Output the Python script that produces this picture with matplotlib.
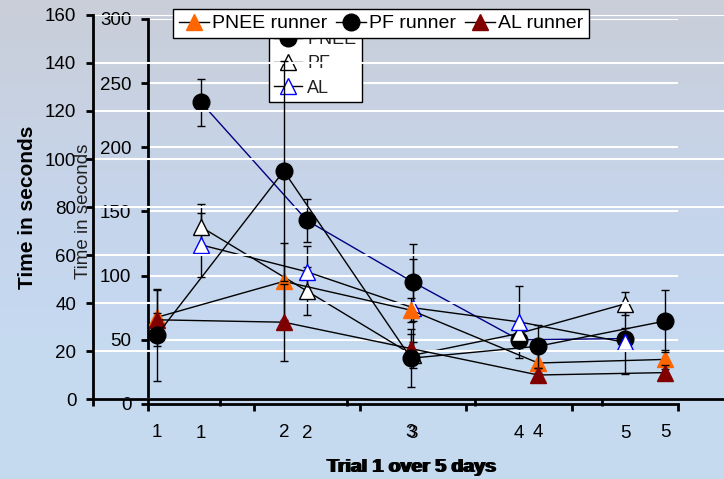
import numpy as np
import matplotlib
matplotlib.use('Agg')
import matplotlib.pyplot as plt
from matplotlib.lines import Line2D

plt.rcParams['font.family'] = ['Liberation Sans', 'DejaVu Sans']

# ---------------- data ----------------
days = [1, 2, 3, 4, 5]
day_labels = ['1', '2', '3', '4', '5']

# Chart A: runners (axis 0-160)
a_names = ['PNEE runner', 'PF runner', 'AL runner']
a_pnee = [34, 49, 37, 15, 16.5]
a_pnee_err = [12, 16, 5, 4, 4]
a_pf = [26.5, 95, 17, 22, 32.5]
a_pf_err = [19, 46, 12, 9, 13]
a_al = [33, 32, 21, 10, 11]
a_al_err = [3, 16, 6, 3, 3]

# Chart B: (axis 0-300)
b_names = ['PNEE', 'PF', 'AL']
b_pnee = [235, 143, 95, 50, 51]
b_pnee_err = [18, 17, 30, 8, 8]
b_pf = [138, 88, 38, 55, 78]
b_pf_err = [18, 19, 10, 10, 9]
b_al = [124, 103, 75, 64, 48]
b_al_err = [25, 20, 38, 28, 25]

xlabel = 'Trial 1 over 5 days'
ylabel = 'Time in seconds'

# ---------------- figure ----------------
W, H = 724, 479
fig = plt.figure(figsize=(W / 100, H / 100), dpi=100)

# background gradient
bg = fig.add_axes([0, 0, 1, 1], zorder=-10)
yy = np.linspace(0, 1, H)[:, None]
top = np.array([0.79, 0.81, 0.85])
mid = np.array([0.775, 0.835, 0.925])
bot = np.array([0.776, 0.851, 0.941])
t1 = np.clip(yy / 0.45, 0, 1)
t2 = np.clip((yy - 0.45) / 0.25, 0, 1)
grad = (top * (1 - t1) + mid * t1) * (1 - t2) + bot * t2
bg.imshow(grad.reshape(H, 1, 3), aspect='auto', extent=[0, 1, 0, 1], origin='upper')
bg.set_axis_off()


def style(ax, ymax, ystep, xpad):
    ax.set_facecolor('none')
    for s in ['top', 'right']:
        ax.spines[s].set_visible(False)
    for s in ['left', 'bottom']:
        ax.spines[s].set_linewidth(2)
        ax.spines[s].set_color('black')
    ax.set_xlim(0.5, 5.5)
    ax.set_ylim(0, ymax)
    ax.set_yticks(np.arange(0, ymax + 1, ystep))
    ax.set_xticks(days)
    ax.set_xticklabels(day_labels)
    ax.set_xticks([0.5 + i for i in range(6)], minor=True)
    ax.tick_params(axis='x', which='major', length=0, pad=xpad, labelsize=13.5)
    ax.tick_params(axis='x', which='minor', length=5, width=2, direction='out')
    ax.tick_params(axis='y', length=5, width=2, direction='out', pad=7, labelsize=13.5)
    ax.yaxis.grid(True, color='white', lw=1.5)
    ax.set_axisbelow(True)


# ---- chart B (underneath) ----
axb = fig.add_axes([148 / W, (H - 404) / H, (678 - 148) / W, (404 - 19) / H])
style(axb, 300, 50, 15)
eb = dict(capsize=3, elinewidth=1, ecolor='black', capthick=1)
axb.errorbar(days, b_pnee, yerr=b_pnee_err, color='#000080', lw=1, marker='o',
             ms=12, mfc='black', mec='black', **eb)
axb.errorbar(days, b_pf, yerr=b_pf_err, color='black', lw=1, marker='^',
             ms=11, mfc='white', mec='black', **eb)
axb.errorbar(days, b_al, yerr=b_al_err, color='black', lw=1, marker='^',
             ms=11, mfc='white', mec='#0000ff', **eb)
axb.set_xlabel(xlabel, fontsize=14, fontweight='bold')
axb.xaxis.set_label_coords(0.5, -0.143)
axb.set_ylabel(ylabel, fontsize=13.5, color='#222222')
axb.yaxis.set_label_coords(-0.106, 0.5)
hb = [Line2D([], [], color='black', lw=1, marker='o', ms=12, mfc='black', mec='black'),
      Line2D([], [], color='black', lw=1, marker='^', ms=11, mfc='white', mec='black'),
      Line2D([], [], color='black', lw=1, marker='^', ms=11, mfc='white', mec='#0000ff')]
legb = axb.legend(hb, b_names, loc='lower left', bbox_to_anchor=(269 / W, 1 - 102 / H),
                  bbox_transform=fig.transFigure, fontsize=13, frameon=True, fancybox=False,
                  edgecolor='black', framealpha=1, handlelength=1.55, handletextpad=0.28,
                  borderpad=0.3, borderaxespad=0, labelspacing=0.4, labelcolor='#222222')
legb.get_frame().set_linewidth(1)

# ---- chart A (on top) ----
axa = fig.add_axes([93 / W, (H - 399) / H, (729 - 93) / W, (399 - 15) / H])
style(axa, 160, 20, 18)
axa.errorbar(days, a_pnee, yerr=a_pnee_err, color='black', lw=1, marker='^',
             ms=12, mfc='#ff6600', mec='#ff6600', zorder=2.1, **eb)
axa.errorbar(days, a_al, yerr=a_al_err, color='black', lw=1, marker='^',
             ms=12, mfc='#800000', mec='#800000', zorder=2.2, **eb)
axa.errorbar(days, a_pf, yerr=a_pf_err, color='black', lw=1, marker='o',
             ms=12, mfc='black', mec='black', zorder=2.3, **eb)
axa.set_xlabel(xlabel, fontsize=14, fontweight='bold')
axa.xaxis.set_label_coords(0.5, -0.156)
axa.set_ylabel(ylabel, fontsize=15, fontweight='bold')
axa.yaxis.set_label_coords(-0.088, 0.5)
ha = [Line2D([], [], color='black', lw=1, marker='^', ms=12, mfc='#ff6600', mec='#ff6600'),
      Line2D([], [], color='black', lw=1, marker='o', ms=12, mfc='black', mec='black'),
      Line2D([], [], color='black', lw=1, marker='^', ms=12, mfc='#800000', mec='#800000')]
lega = axa.legend(ha, a_names, loc='upper left', bbox_to_anchor=(173 / W, 1 - 9 / H),
                  bbox_transform=fig.transFigure, ncol=3, fontsize=14, frameon=True,
                  fancybox=False, edgecolor='black', framealpha=1, handlelength=1.55,
                  handletextpad=0.15, columnspacing=0.45, borderpad=0.3, borderaxespad=0)
lega.get_frame().set_linewidth(1)

fig.savefig('out.png', dpi=100)
